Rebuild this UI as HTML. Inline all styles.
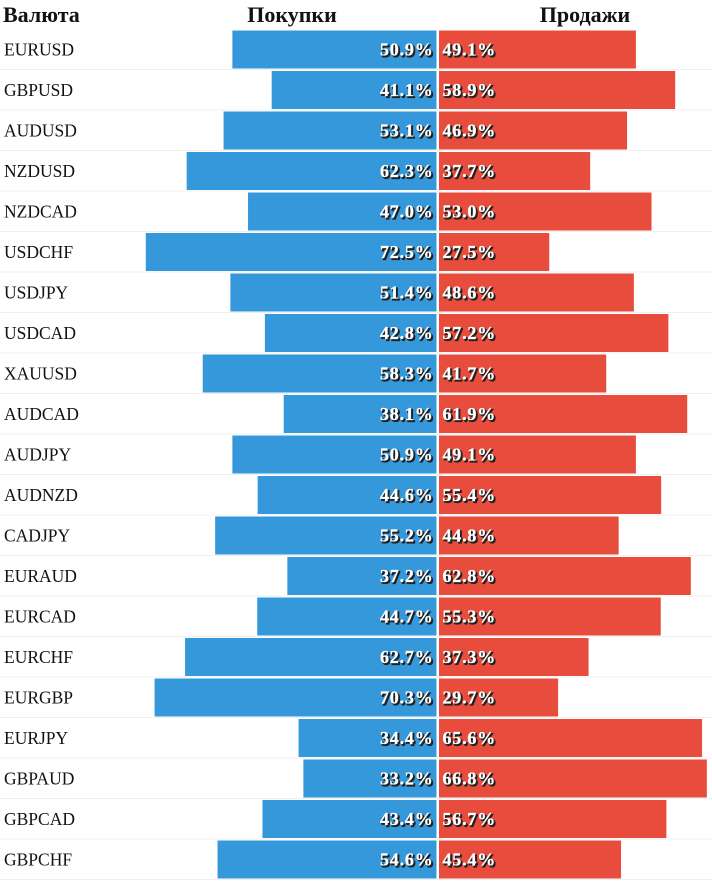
<!DOCTYPE html>
<html><head><meta charset="utf-8"><style>
body{margin:0;background:#fff;width:712px;height:882px;overflow:hidden}
svg text{font-family:"Liberation Serif","DejaVu Serif",serif}
.v{font-weight:bold;font-size:18px;letter-spacing:0.8px;fill:#fff;stroke:#fff;stroke-width:0.3px}
.sh{font-weight:bold;font-size:18px;letter-spacing:0.8px;fill:#222;stroke:#222;stroke-width:1.2px}
</style></head><body>
<svg id="c" width="712" height="882">
<text x="3" y="22" font-size="22" font-weight="bold" fill="#111">Валюта</text>
<text x="292" y="22" font-size="22" font-weight="bold" fill="#111" text-anchor="middle">Покупки</text>
<text x="585" y="22" font-size="22" font-weight="bold" fill="#111" text-anchor="middle">Продажи</text>
</svg>
<script>
const pairs=["EURUSD","GBPUSD","AUDUSD","NZDUSD","NZDCAD","USDCHF","USDJPY","USDCAD","XAUUSD","AUDCAD","AUDJPY","AUDNZD","CADJPY","EURAUD","EURCAD","EURCHF","EURGBP","EURJPY","GBPAUD","GBPCAD","GBPCHF"];
const buys=[50.9,41.1,53.1,62.3,47.0,72.5,51.4,42.8,58.3,38.1,50.9,44.6,55.2,37.2,44.7,62.7,70.3,34.4,33.2,43.4,54.6];
const sells=[49.1,58.9,46.9,37.7,53.0,27.5,48.6,57.2,41.7,61.9,49.1,55.4,44.8,62.8,55.3,37.3,29.7,65.6,66.8,56.7,45.4];
const svg=document.getElementById('c');const NS="http://www.w3.org/2000/svg";
const cx=437.5,k=4.01,top0=30.5,pitch=40.5,bh=38;
function x(v){return v*k;}
function mk(t,a){const e=document.createElementNS(NS,t);for(const n in a)e.setAttribute(n,a[n]);svg.appendChild(e);return e;}
pairs.forEach((p,i)=>{
 const y=top0+i*pitch;
 const sep=mk('line',{x1:0,x2:712,y1:y+bh+1,y2:y+bh+1,stroke:'#f0f0f0'});
 
 
 const lb=mk('text',{x:4,y:y+25,'font-size':17.5,fill:'#111'});lb.textContent=p;
 
 
 const b=mk('rect',{x:cx-1-x(buys[i]),y:y,width:x(buys[i]),height:bh,fill:'#3498db'});
 
 
 const s=mk('rect',{x:cx+1.5,y:y,width:x(sells[i]),height:bh,fill:'#e74c3c'});
 
 
 const bs=mk('text',{x:cx-2.5,y:y+26.5,'text-anchor':'end',class:'sh'});bs.textContent=buys[i].toFixed(1)+'%';
 
 
 const bt=mk('text',{x:cx-4,y:y+25,'text-anchor':'end',class:'v'});bt.textContent=buys[i].toFixed(1)+'%';
 
 
 const ss=mk('text',{x:cx+6.5,y:y+26.5,class:'sh'});ss.textContent=sells[i].toFixed(1)+'%';
 
 
 const st=mk('text',{x:cx+5,y:y+25,class:'v'});st.textContent=sells[i].toFixed(1)+'%';
 
 
});
</script>
</body></html>
